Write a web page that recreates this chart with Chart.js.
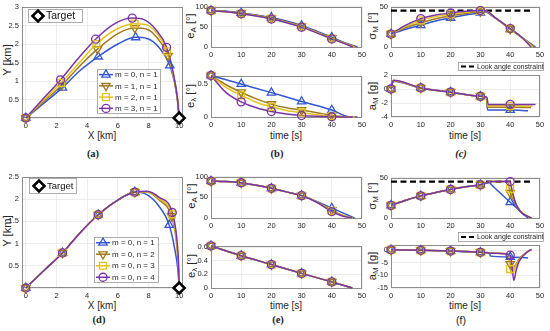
<!DOCTYPE html>
<html><head><meta charset="utf-8">
<script src="https://cdn.jsdelivr.net/npm/chart.js@4/dist/chart.umd.min.js"></script>
<style>
html,body{margin:0;padding:0;background:#fff;width:550px;height:331px;overflow:hidden;font-family:'Liberation Sans',Arial,sans-serif;}
body{position:relative;}
canvas{position:absolute;}
.t{position:absolute;white-space:nowrap;color:#262626;font-size:10px;line-height:1;}
.yt{transform:translate(-50%,-50%) scale(1,1.12) rotate(-90deg);}
.xt{transform:translate(-50%,-50%);}
.cap{position:absolute;transform:translate(-50%,-50%);white-space:nowrap;font-family:'Liberation Serif','Times New Roman',serif;font-weight:bold;font-size:10.5px;color:#222;line-height:1;}
sub{font-size:72%;vertical-align:-0.3em;line-height:0;}
</style></head><body>

<div class="t yt" style="left:8px;top:60px">Y [km]</div>
<div class="t xt" style="left:102px;top:136px">X [km]</div>
<div class="t yt" style="left:191px;top:26px">e<sub>A</sub> [°]</div>
<div class="t yt" style="left:191px;top:96px">e<sub>λ</sub> [°]</div>
<div class="t xt" style="left:286px;top:136px">time [s]</div>
<div class="t yt" style="left:373px;top:26px">σ<sub>M</sub> [°]</div>
<div class="t yt" style="left:373px;top:96px">a<sub>M</sub> [g]</div>
<div class="t xt" style="left:465px;top:136px">time [s]</div>
<div class="cap" style="left:93px;top:154px">(a)</div>
<div class="cap" style="left:277px;top:154px">(b)</div>
<div class="cap" style="left:461px;top:154px;font-style:italic">(c)</div>

<div class="t yt" style="left:8px;top:231px">Y [km]</div>
<div class="t xt" style="left:102px;top:306px">X [km]</div>
<div class="t yt" style="left:192px;top:196px">e<sub>A</sub> [°]</div>
<div class="t yt" style="left:192px;top:266px">e<sub>λ</sub> [°]</div>
<div class="t xt" style="left:286px;top:306px">time [s]</div>
<div class="t yt" style="left:373px;top:196px">σ<sub>M</sub> [°]</div>
<div class="t yt" style="left:373px;top:266px">a<sub>M</sub> [g]</div>
<div class="t xt" style="left:465px;top:306px">time [s]</div>
<div class="cap" style="left:99px;top:320px">(d)</div>
<div class="cap" style="left:278px;top:320px">(e)</div>
<div class="cap" style="left:461px;top:320px;font-family:'Liberation Sans',Arial,sans-serif;font-weight:normal">(f)</div>

<script>
// ---------------- DATA ----------------
const legendA = ['m = 0, n = 1', 'm = 1, n = 1', 'm = 2, n = 1', 'm = 3, n = 1'];
const legendD = ['m = 0, n = 1', 'm = 0, n = 2', 'm = 0, n = 3', 'm = 0, n = 4'];
const targetLabel = 'Target';
const constraintLabel = 'Look angle constraint';

const xTicksTraj = [0, 2, 4, 6, 8, 10];
const yTicksA = [0, 0.5, 1, 1.5, 2, 2.5, 3];
const yTicksD = [0, 0.5, 1, 1.5, 2, 2.5];
const timeTicks = [0, 10, 20, 30, 40, 50];
const eATicks = [0, 50, 100];
const elTicksB = [0, 0.5];
const elTicksE = [0, 0.2, 0.4, 0.6];
const sigmaTicks = [0, 50];
const aTicksC = [-4, -2, 0, 2];
const aTicksF = [-15, -10, -5, 0];

const markTimes = [0, 10, 20, 30, 40];
const trajMarkIdx = [0, 2, 4, 6, 9];
const target = [10, 0];
const lookAngle = 45;
const lookAngleSpan = [0, 47];

// (a) trajectories [X km, Y km]
const a_m0 = [[0,0],[1,0.34],[2.39,0.82],[3.5,1.27],[4.72,1.66],[6,2.0],[7.16,2.18],[7.9,2.15],[8.7,1.9],[9.39,1.42],[9.7,0.95],[9.9,0.45],[10,0]];
const a_m1 = [[0,0],[1,0.38],[2.33,0.88],[3.5,1.4],[4.67,1.86],[6,2.28],[7.11,2.43],[7.9,2.4],[8.6,2.15],[9.28,1.68],[9.65,1.1],[9.9,0.5],[10,0]];
const a_m2 = [[0,0],[1,0.42],[2.3,0.95],[3.5,1.5],[4.6,2.0],[6,2.42],[7.09,2.55],[7.8,2.53],[8.6,2.26],[9.2,1.8],[9.6,1.2],[9.88,0.5],[10,0]];
const a_m3 = [[0,0],[1,0.46],[2.26,1.03],[3.4,1.6],[4.55,2.13],[5.8,2.55],[6.94,2.7],[7.7,2.66],[8.5,2.38],[9.18,1.91],[9.6,1.25],[9.88,0.55],[10,0]];

// (b) top: e_A [deg] vs time
const b_eA_m0 = [[0,90],[5,88],[10,84],[15,79],[20,73],[25,64],[30,53],[35,39],[40,24],[44,11],[48.5,0]];
const b_eA_m1 = [[0,90],[5,87.5],[10,83],[15,78],[20,71],[25,62],[30,51],[35,37],[40,22],[44,10],[48,0]];
const b_eA_m2 = [[0,90],[5,87],[10,82.5],[15,77],[20,70],[25,61],[30,50],[35,36],[40,21],[44,9.5],[47.5,0]];
const b_eA_m3 = [[0,90],[5,87],[10,82],[15,76.5],[20,69],[25,60],[30,49],[35,35],[40,20],[44,9],[47,0]];
// (b) bottom: e_lambda [deg]
const b_el_m0 = [[0,0.63],[10,0.5],[20,0.37],[30,0.235],[40,0.105],[45.5,0.005],[48.5,0]];
const b_el_m1 = [[0,0.63],[5,0.49],[10,0.375],[15,0.275],[20,0.195],[25,0.14],[30,0.105],[35,0.065],[40,0.025],[44,0.003],[48,0]];
const b_el_m2 = [[0,0.63],[5,0.45],[10,0.33],[15,0.225],[20,0.155],[25,0.1],[30,0.065],[35,0.035],[40,0.012],[47.5,0]];
const b_el_m3 = [[0,0.63],[5,0.37],[10,0.23],[15,0.14],[20,0.083],[25,0.045],[30,0.022],[35,0.01],[40,0.004],[47,0]];

// (c) top: sigma_M [deg]
const c_s_m0 = [[0,16],[5,22],[10,27],[15,32],[20,36],[25,39.5],[30,42.3],[31.5,43.5],[35,35.5],[40,22],[44,11.5],[48.5,0]];
const c_s_m1 = [[0,16],[5,24],[10,30],[15,35],[20,38.5],[25,41.5],[30,43.8],[31.5,44.3],[35,35.8],[40,22.3],[44,11.5],[48,0]];
const c_s_m2 = [[0,16],[5,25.5],[10,33],[15,37.5],[20,40.5],[25,43],[30,44.5],[31.5,44.7],[35,36],[40,22.5],[44,11.5],[47.5,0]];
const c_s_m3 = [[0,16],[5,27],[10,35],[15,39.5],[20,42],[25,44],[30,45],[31.5,45],[35,36.2],[40,22.8],[44,11.5],[47,0]];
// (c) bottom: a_M [g]
const c_a_m0 = [[0,0],[0.8,1.1],[10,0.15],[20,-0.45],[30,-1.05],[32,-1.2],[32.4,-3.0],[40,-3.0],[46,-3.1]];
const c_a_m1 = [[0,0],[0.8,1.15],[10,0.15],[20,-0.45],[30,-1.05],[32,-1.2],[32.4,-2.6],[40,-2.6],[47,-2.65]];
const c_a_m2 = [[0,0],[0.8,1.2],[10,0.15],[20,-0.45],[30,-1.05],[32.1,-1.2],[32.5,-2.4],[40,-2.4],[47.5,-2.45]];
const c_a_m3 = [[0,0],[0.8,1.25],[10,0.15],[20,-0.45],[30,-1.05],[32.2,-1.2],[32.6,-2.2],[40,-2.2],[48.5,-2.2]];

// (d) trajectories
const d_n1 = [[0,0],[1.2,0.4],[2.39,0.79],[3.5,1.23],[4.72,1.65],[6,1.98],[7.11,2.16],[7.8,2.12],[8.6,1.88],[9.35,1.42],[9.7,0.9],[9.92,0.4],[10,0]];
const d_n2 = [[0,0],[1.2,0.4],[2.39,0.79],[3.5,1.23],[4.72,1.65],[6,1.98],[7.11,2.16],[7.9,2.16],[8.7,1.98],[9.5,1.62],[9.8,1.1],[9.95,0.45],[10,0]];
const d_n3 = [[0,0],[1.2,0.4],[2.39,0.79],[3.5,1.23],[4.72,1.65],[6,1.98],[7.11,2.16],[7.9,2.17],[8.7,2.01],[9.52,1.66],[9.82,1.1],[9.96,0.45],[10,0]];
const d_n4 = [[0,0],[1.2,0.4],[2.39,0.79],[3.5,1.23],[4.72,1.65],[6,1.98],[7.11,2.16],[7.9,2.18],[8.7,2.04],[9.55,1.7],[9.85,1.1],[9.97,0.45],[10,0]];

// (e) top: e_A
const e_eA_n1 = [[0,89],[5,88],[10,85],[15,79],[20,71.5],[25,63],[30,54],[35,40],[40,24],[44,11],[47.5,0]];
const e_eA_n2 = [[0,89],[5,88],[10,85],[15,79],[20,71.5],[25,63],[30,54],[35,39],[40,19],[43.5,7],[47,0]];
const e_eA_n3 = [[0,89],[5,88],[10,85],[15,79],[20,71.5],[25,63],[30,54],[35,38.5],[40,17],[43.5,6],[47,0]];
const e_eA_n4 = [[0,89],[5,88],[10,85],[15,79],[20,71.5],[25,63],[30,54],[35,38],[40,15.5],[43.5,5],[46.8,0]];
// (e) bottom: e_lambda (the four cases coincide)
const e_el_n1 = [[0,0.62],[10,0.475],[20,0.345],[30,0.215],[40,0.09],[46.8,0]];
const e_el_n2 = [[0,0.62],[10,0.475],[20,0.345],[30,0.215],[40,0.09],[46.8,0]];
const e_el_n3 = [[0,0.62],[10,0.475],[20,0.345],[30,0.215],[40,0.09],[46.8,0]];
const e_el_n4 = [[0,0.62],[10,0.475],[20,0.345],[30,0.215],[40,0.09],[46.8,0]];

// (f) top: sigma_M
const f_s_n1 = [[0,15.6],[5,22],[10,27.3],[15,31.5],[20,35.2],[25,38.5],[30,41],[32,43],[33,43.5],[34,40],[36,33],[38,26.3],[40,19.5],[42,13],[44,6],[46,0]];
const f_s_n2 = [[0,15.6],[5,22],[10,27.3],[15,31.5],[20,35.2],[25,38.5],[30,41],[32.5,44],[34,45],[39.2,45],[40,31],[41,23],[42,16],[43.5,8],[46.8,0]];
const f_s_n3 = [[0,15.6],[5,22],[10,27.3],[15,31.5],[20,35.2],[25,38.5],[30,41],[32.5,44],[34,45],[39.5,45],[40,36],[41,26],[42,17.5],[43.5,8.5],[47,0]];
const f_s_n4 = [[0,15.6],[5,22],[10,27.3],[15,31.5],[20,35.2],[25,38.5],[30,41],[32.5,44],[34,45],[40,45],[40.7,33],[41.5,22],[42.5,13],[44,6],[47.2,0]];
// (f) bottom: a_M
const f_a_n1 = [[0,0.1],[10,-0.1],[20,-0.4],[30,-0.9],[33,-1.1],[33.4,-2.4],[40,-2.7],[46,-3.1]];
const f_a_n2 = [[0,0.1],[10,-0.1],[20,-0.4],[30,-0.9],[35,-1.3],[39.2,-1.6],[40,-5.5],[40.6,-8],[41.5,-6.5],[43,-3.5],[45,-1.3],[47,0.2]];
const f_a_n3 = [[0,0.1],[10,-0.1],[20,-0.4],[30,-0.9],[35,-1.3],[39.4,-1.6],[40,-7.5],[40.8,-9.5],[41.8,-6.5],[43,-4],[45,-1.4],[47,0.2]];
const f_a_n4 = [[0,0.1],[10,-0.1],[20,-0.4],[30,-0.9],[35,-1.3],[40,-2],[40.5,-5],[41.2,-12],[42,-8],[43,-4.5],[45,-1.5],[47.2,0.3]];

// ---------------- STYLE ----------------
const COLORS = ['#3356d4', '#a27a1c', '#e3c31b', '#7a33a6'];
const MARKS = [
  {s: 'triangle', rot: 0, r: 4.8},
  {s: 'triangle', rot: 180, r: 4.8},
  {s: 'rect', rot: 0, r: 4.9},
  {s: 'circle', rot: 0, r: 4.0}
];
const FONT = "'Liberation Sans', Arial, sans-serif";
const TICKC = '#262626';

const decoPlugin = {
  id: 'deco',
  beforeDatasetsDraw(chart) {
    const a = chart.chartArea, ctx = chart.ctx;
    ctx.save();
    ctx.strokeStyle = '#8c8c8c'; ctx.lineWidth = 1;
    ctx.strokeRect(Math.round(a.left) + 0.5, Math.round(a.top) + 0.5, Math.round(a.right - a.left) - 1, Math.round(a.bottom - a.top) - 1);
    ctx.restore();
  },
  afterDraw(chart) {
    const cv = chart.canvas;
    if (cv._draw) {
      const ctx = chart.ctx;
      ctx.save(); ctx.translate(-cv._ox, -cv._oy); cv._draw(ctx); ctx.restore();
    }
  }
};
Chart.register(decoPlugin);

function pts(arr) { return arr.map(p => ({x: p[0], y: p[1]})); }
function byTime(arr) { return arr.filter(p => markTimes.includes(p[0])); }
function byIdx(arr) { return arr.filter((p, i) => trajMarkIdx.includes(i)); }

function series(lines, sel) {
  const ds = [];
  lines.forEach((ln, i) => {
    ds.push({data: pts(ln), borderColor: COLORS[i], borderWidth: 1.5, pointRadius: 0,
      cubicInterpolationMode: 'monotone', fill: false, order: 13 - i, clip: 4});
    ds.push({data: pts(sel(ln)), showLine: false, pointStyle: MARKS[i].s, rotation: MARKS[i].rot,
      pointRotation: MARKS[i].rot, pointRadius: MARKS[i].r, pointBorderColor: COLORS[i],
      pointBackgroundColor: 'rgba(0,0,0,0)', pointBorderWidth: 1.3, order: 3 - i, clip: false});
  });
  return ds;
}

function drawMark(ctx, i, x, y) {
  ctx.strokeStyle = COLORS[i]; ctx.fillStyle = 'rgba(0,0,0,0)'; ctx.lineWidth = 1.3;
  Chart.helpers.drawPoint(ctx, {pointStyle: MARKS[i].s, rotation: MARKS[i].rot, radius: MARKS[i].r, borderWidth: 1.3}, x, y);
}
function legendBox(ctx, x0, y0, x1, y1) {
  ctx.fillStyle = '#fff'; ctx.fillRect(x0, y0, x1 - x0, y1 - y0);
  ctx.strokeStyle = '#9a9a9a'; ctx.lineWidth = 0.8; ctx.strokeRect(x0 + 0.5, y0 + 0.5, x1 - x0 - 1, y1 - y0 - 1);
}
function seriesLegend(labels, x0, y0, x1, y1) {
  return function (ctx) {
    legendBox(ctx, x0, y0, x1, y1);
    const h = (y1 - y0) / labels.length;
    labels.forEach((lb, i) => {
      const y = y0 + h * (i + 0.5);
      ctx.strokeStyle = COLORS[i]; ctx.lineWidth = 1.5;
      ctx.beginPath(); ctx.moveTo(x0 + 2, y); ctx.lineTo(x0 + 16, y); ctx.stroke();
      drawMark(ctx, i, x0 + 9, y);
      ctx.fillStyle = '#262626'; ctx.font = '8px ' + FONT; ctx.textBaseline = 'middle'; ctx.textAlign = 'left';
      ctx.fillText(lb, x0 + 18, y + 0.5);
    });
  };
}
function targetLegend(x0, y0, x1, y1, fs) {
  return function (ctx) {
    legendBox(ctx, x0, y0, x1, y1);
    const y = (y0 + y1) / 2;
    ctx.strokeStyle = '#000'; ctx.fillStyle = '#fff'; ctx.lineWidth = 2.5;
    Chart.helpers.drawPoint(ctx, {pointStyle: 'rectRot', rotation: 0, radius: 5.5, borderWidth: 2.5}, x0 + 10, y);
    ctx.fillStyle = '#111'; ctx.font = fs + 'px ' + FONT; ctx.textBaseline = 'middle'; ctx.textAlign = 'left';
    ctx.fillText(targetLabel, x0 + 18, y + 0.5);
  };
}
function constraintLegend(x0, y0, x1, y1) {
  return function (ctx) {
    legendBox(ctx, x0, y0, x1, y1);
    const y = (y0 + y1) / 2;
    ctx.strokeStyle = '#000'; ctx.lineWidth = 2.2; ctx.setLineDash([5, 3]);
    ctx.beginPath(); ctx.moveTo(x0 + 3, y); ctx.lineTo(x0 + 18, y); ctx.stroke(); ctx.setLineDash([]);
    ctx.fillStyle = '#262626'; ctx.font = '7px ' + FONT; ctx.textBaseline = 'middle'; ctx.textAlign = 'left';
    ctx.fillText(constraintLabel, x0 + 19, y + 0.5);
  };
}

function targetDs() {
  return {data: [{x: target[0], y: target[1]}], showLine: false, pointStyle: 'rectRot', pointRadius: 5.5,
    pointBorderColor: '#000', pointBackgroundColor: '#fff', pointBorderWidth: 2.5, order: -1, clip: false};
}
function constraintDs() {
  return {data: lookAngleSpan.map(t => ({x: t, y: lookAngle})), borderColor: '#000', borderWidth: 2.2,
    borderDash: [6, 3.5], pointRadius: 0, order: 20, clip: 4};
}

function panel(o) {
  const padL = o.padL || 24, padT = o.padT || 6, padR = o.padR || 10, padB = o.padB || 14;
  const W = Math.round(o.box.r - o.box.l), H = Math.round(o.box.b - o.box.t);
  const ox = Math.round(o.box.l) - padL, oy = Math.round(o.box.t) - padT;
  const cv = document.createElement('canvas');
  cv.width = W + padL + padR; cv.height = H + padT + padB;
  cv.style.left = ox + 'px'; cv.style.top = oy + 'px';
  cv.style.width = cv.width + 'px'; cv.style.height = cv.height + 'px';
  document.body.appendChild(cv);
  cv._draw = o.draw; cv._ox = ox; cv._oy = oy;
  const hide0 = !!o.hideZero;
  new Chart(cv, {
    type: 'line',
    data: {datasets: o.datasets},
    options: {
      responsive: false, animation: false, devicePixelRatio: 1,
      layout: {padding: {left: 0, top: padT, right: padR, bottom: 0}},
      plugins: {legend: {display: false}, tooltip: {enabled: false}},
      scales: {
        x: {type: 'linear', min: o.xr[0], max: o.xr[1],
          afterBuildTicks: s => { s.ticks = o.xt.map(v => ({value: v})); },
          afterFit: s => { s.height = padB; },
          grid: {color: '#e8e8e8', drawTicks: false, lineWidth: 0.8}, border: {display: false},
          ticks: {font: {size: 7.5, family: FONT}, color: TICKC, padding: 3, maxRotation: 0, autoSkip: false,
            callback: v => String(v)}},
        y: {type: 'linear', min: o.yr[0], max: o.yr[1],
          afterBuildTicks: s => { s.ticks = o.yt.map(v => ({value: v})); },
          afterFit: s => { s.width = padL; },
          grid: {color: '#e8e8e8', drawTicks: false, lineWidth: 0.8}, border: {display: false},
          ticks: {font: {size: 7.5, family: FONT}, color: TICKC, padding: 3, autoSkip: false,
            callback: v => (hide0 && v === 0) ? '' : String(v)}}
      }
    }
  });
}

// ---------------- PANELS ----------------
panel({box: {l: 22, r: 183, t: 5, b: 118}, xr: [-0.25, 10.25], yr: [0, 3], xt: xTicksTraj, yt: yTicksA, hideZero: true,
  datasets: series([a_m0, a_m1, a_m2, a_m3], byIdx).concat([targetDs()]),
  draw: ctx => { targetLegend(28, 9, 83, 23, 10.5)(ctx); seriesLegend(legendA, 97, 69, 161, 114)(ctx); }});
panel({box: {l: 211, r: 362, t: 5, b: 47}, xr: [0, 50], yr: [0, 100], xt: timeTicks, yt: eATicks,
  datasets: series([b_eA_m0, b_eA_m1, b_eA_m2, b_eA_m3], byTime)});
panel({box: {l: 211, r: 362, t: 74, b: 117}, xr: [0, 50], yr: [0, 0.63], xt: timeTicks, yt: elTicksB,
  datasets: series([b_el_m0, b_el_m1, b_el_m2, b_el_m3], byTime)});
panel({box: {l: 391, r: 540, t: 5, b: 47}, xr: [0, 50], yr: [0, 50], xt: timeTicks, yt: sigmaTicks,
  datasets: series([c_s_m0, c_s_m1, c_s_m2, c_s_m3], byTime).concat([constraintDs()])});
panel({box: {l: 391, r: 540, t: 75, b: 117}, xr: [0, 50], yr: [-4, 2], xt: timeTicks, yt: aTicksC, padT: 16,
  datasets: series([c_a_m0, c_a_m1, c_a_m2, c_a_m3], byTime),
  draw: constraintLegend(458, 62, 544, 71)});

panel({box: {l: 22, r: 183, t: 175, b: 288}, xr: [-0.25, 10.25], yr: [0, 2.5], xt: xTicksTraj, yt: yTicksD, hideZero: true,
  datasets: series([d_n1, d_n2, d_n3, d_n4], byIdx).concat([targetDs()]),
  draw: ctx => { targetLegend(29, 178, 77, 194, 9.5)(ctx); seriesLegend(legendD, 94, 237, 159, 283)(ctx); }});
panel({box: {l: 211, r: 362, t: 175, b: 218}, xr: [0, 50], yr: [0, 100], xt: timeTicks, yt: eATicks,
  datasets: series([e_eA_n1, e_eA_n2, e_eA_n3, e_eA_n4], byTime)});
panel({box: {l: 211, r: 362, t: 244, b: 288}, xr: [0, 50], yr: [0, 0.625], xt: timeTicks, yt: elTicksE,
  datasets: series([e_el_n1, e_el_n2, e_el_n3, e_el_n4], byTime)});
panel({box: {l: 391, r: 540, t: 176, b: 218}, xr: [0, 50], yr: [0, 50], xt: timeTicks, yt: sigmaTicks,
  datasets: series([f_s_n1, f_s_n2, f_s_n3, f_s_n4], byTime).concat([constraintDs()])});
panel({box: {l: 391, r: 540, t: 245, b: 288}, xr: [0, 50], yr: [-15, 2], xt: timeTicks, yt: aTicksF, padT: 16,
  datasets: series([f_a_n1, f_a_n2, f_a_n3, f_a_n4], byTime),
  draw: constraintLegend(458, 232, 544, 242)});
</script>
</body></html>
